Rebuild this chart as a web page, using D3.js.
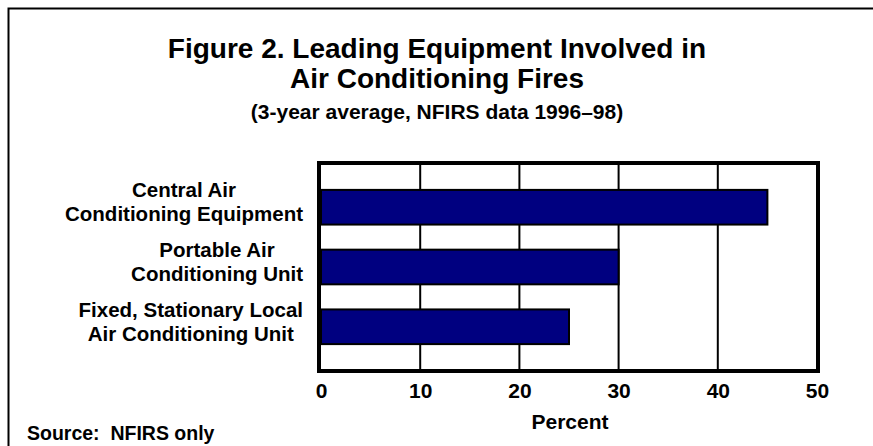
<!DOCTYPE html>
<html>
<head>
<meta charset="utf-8">
<script src="https://cdn.jsdelivr.net/npm/d3@7"></script>
<style>
  body { margin: 0; background: #fff; }
  svg { display: block; font-family: "Liberation Sans", Arial, sans-serif; font-weight: bold; }
</style>
</head>
<body>
<div id="chart"></div>
<script>
// chart data
const categories = [
    ["Central Air", "Conditioning Equipment"],
    ["Portable Air", "Conditioning Unit"],
    ["Fixed, Stationary Local", "Air Conditioning Unit"]
];
const values = [45, 30, 25];
const xTicks = [0, 10, 20, 30, 40, 50];

const W = 873, H = 446;
const plot = { left: 319, right: 818, top: 163, bottom: 371 };

const svg = d3.select("#chart").append("svg")
    .attr("width", W)
    .attr("height", H);

// outer frame (runs off the right and bottom of the picture)
svg.append("rect")
    .attr("x", 8.5).attr("y", 8.5)
    .attr("width", 900).attr("height", 500)
    .attr("fill", "none")
    .attr("stroke", "#000")
    .attr("stroke-width", 2);

// titles
svg.append("text")
    .attr("x", 437).attr("y", 58)
    .attr("text-anchor", "middle")
    .style("font-size", "28px")
    .text("Figure 2. Leading Equipment Involved in");
svg.append("text")
    .attr("x", 437).attr("y", 88)
    .attr("text-anchor", "middle")
    .style("font-size", "28px")
    .text("Air Conditioning Fires");
svg.append("text")
    .attr("x", 437).attr("y", 119)
    .attr("text-anchor", "middle")
    .style("font-size", "21px")
    .text("(3-year average, NFIRS data 1996\u201398)");

// scales
const x = d3.scaleLinear().domain([0, 50]).range([321, 817]);
const y = d3.scaleBand()
    .domain(d3.range(categories.length))
    .range([plot.top, plot.bottom])
    .paddingInner(0.42)
    .paddingOuter(0.45);

// vertical gridlines
svg.append("g")
    .selectAll("line")
    .data(xTicks.filter(t => t > 0 && t < 50))
    .join("line")
    .attr("x1", d => x(d)).attr("x2", d => x(d))
    .attr("y1", plot.top).attr("y2", plot.bottom)
    .attr("stroke", "#000")
    .attr("stroke-width", 2);

// bars
svg.append("g")
    .selectAll("rect")
    .data(values)
    .join("rect")
    .attr("x", x(0))
    .attr("y", (d, i) => y(i))
    .attr("width", d => x(d) - x(0))
    .attr("height", y.bandwidth())
    .attr("fill", "#000080")
    .attr("stroke", "#000")
    .attr("stroke-width", 2);

// plot frame
svg.append("rect")
    .attr("x", plot.left).attr("y", plot.top)
    .attr("width", plot.right - plot.left)
    .attr("height", plot.bottom - plot.top)
    .attr("fill", "none")
    .attr("stroke", "#000")
    .attr("stroke-width", 4);

// x tick labels
const xAxis = svg.append("g")
    .attr("transform", `translate(0,${plot.bottom})`)
    .call(d3.axisBottom(x).tickValues(xTicks).tickSize(0).tickPadding(12));
xAxis.select(".domain").remove();
xAxis.selectAll("text")
    .style("font-family", "Liberation Sans, Arial, sans-serif")
    .style("font-weight", "bold")
    .style("font-size", "21px")
    .attr("fill", "#000");

svg.append("text")
    .attr("x", 570).attr("y", 429)
    .attr("text-anchor", "middle")
    .style("font-size", "21px")
    .text("Percent");

// category labels: centered lines, block right-aligned to the plot
const labelRight = 303;
categories.forEach((lines, i) => {
    const cy = y(i) + y.bandwidth() / 2;
    const g = svg.append("g");
    const texts = lines.map((line, j) => g.append("text")
        .attr("y", cy - 5 + (j - (lines.length - 1) / 2) * 23.5 + 7)
        .attr("text-anchor", "middle")
        .style("font-size", "20.5px")
        .text(line));
    const maxW = d3.max(texts, t => t.node().getComputedTextLength());
    texts.forEach(t => t.attr("x", labelRight - maxW / 2));
});

// source note
svg.append("text")
    .attr("x", 27).attr("y", 440)
    .style("font-size", "19.5px")
    .style("white-space", "pre")
    .text("Source:  NFIRS only");
</script>
</body>
</html>
